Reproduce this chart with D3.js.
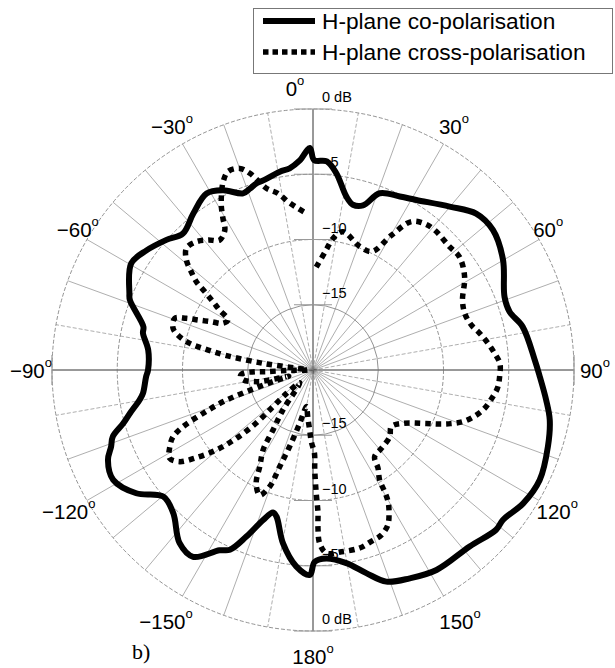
<!DOCTYPE html>
<html>
<head>
<meta charset="utf-8">
<script src="https://cdn.jsdelivr.net/npm/d3@7"></script>
<style>
  html, body { margin: 0; padding: 0; background: #fff; }
  svg { display: block; }
</style>
</head>
<body>
<svg id="chart" width="615" height="668"></svg>
<script>
// ---------------- DATA ----------------
// angles in degrees (clockwise from top), levels in dB
const seriesNames = ["H-plane co-polarisation", "H-plane cross-polarisation"];

const coAngles = [-179.1,-175.1,-170.2,-166,-164.3,-161.6,-158.2,-155.2,-152.6,-147.3,-142.4,-135.7,-130.2,-124.9,-118.8,-113.7,-110.8,-108.4,-105.7,-103.3,-99.8,-97.8,-92.3,-90,-83.1,-77.8,-75.7,-69.1,-67.3,-59.6,-54.3,-48.4,-43.6,-37.4,-31.1,-26.6,-21.6,-19.2,-16.9,-14.7,-9.5,-6.6,-3.6,-0.8,0.3,3.8,6.8,10.9,13.6,16.9,20.7,26.6,31.3,39.9,46.2,52.1,59.9,69.1,73.5,78.3,87.4,91.7,97.3,101.9,108,115.9,122.4,128.3,131.1,138.4,148.3,155.1,160.9,165.3,170.2,176,179.5];
const coValues = [-4.29,-4.90,-6.51,-8.43,-8.66,-7.89,-6.25,-4.83,-4.44,-2.99,-3.25,-4.67,-4.98,-3.49,-2.53,-2.84,-3.45,-3.83,-4.90,-5.59,-6.51,-6.85,-7.20,-7.36,-7.28,-6.67,-6.59,-4.98,-4.75,-3.85,-4.29,-4.98,-5.55,-4.90,-4.21,-4.60,-5.44,-5.29,-5.06,-4.98,-4.60,-4.44,-3.91,-2.99,-3.91,-3.98,-4.83,-6.47,-6.97,-6.82,-5.52,-5.13,-4.75,-3.68,-2.68,-2.53,-3.17,-4.29,-4.29,-3.60,-2.99,-2.61,-1.99,-1.46,-1.07,-0.69,-0.92,-1.46,-1.38,-1.92,-1.99,-2.40,-2.84,-3.91,-4.98,-5.52,-5.30];

const xAngles = [1.8,6.3,8.6,12.2,20.7,26.5,30.2,33.5,37.3,41,48,52.3,58.4,65,69.7,74.1,77.6,81.3,84.8,88,92,95.5,99.2,102.9,106.2,109,111.3,113.1,115.3,120.6,125.9,131,138.9,144.6,146.5,148.8,149.5,150.3,152,154.2,157.5,161.2,165.3,171.1,175.8,177.8,178.2,178,178.5,179,179,-178.7,-176.8,-174,-171,-169.7,-166,-163,-161,-159.6,-156.9,-153.4,-151.1,-148,-146.3,-143,-134,-131.5,-132.5,-133,-131.7,-129.6,-126.7,-124.5,-121.6,-118.2,-115.5,-113.6,-111.5,-109.4,-108,-106,-104.5,-103,-102,-98,-95,-92.7,-91.8,-92,-91,-88,-84,-82.4,-80.4,-79,-77.8,-76,-73.4,-69.5,-67.8,-66.5,-64.6,-62.6,-59.5,-57.3,-55.7,-54.1,-52.9,-51.1,-49,-46.1,-42.3,-38.9,-35.7,-32.2,-30.7,-29.3,-27.6,-25.5,-23.2,-20,-17.8,-14.4,-11.2,-8.4,-5.3,-2.4];
const xValues = [-12.11,-10.73,-9.81,-9.16,-9.88,-9.85,-8.05,-6.36,-5.90,-5.79,-5.90,-5.82,-6.36,-7.36,-7.59,-7.39,-6.92,-6.44,-6.02,-5.67,-5.69,-5.79,-6.15,-6.57,-7.17,-7.84,-8.69,-9.45,-10.40,-11.98,-12.59,-12.21,-12.03,-11.85,-10.97,-10.15,-9.20,-8.39,-7.59,-6.82,-6.31,-6.13,-5.90,-5.90,-5.92,-6.70,-7.97,-9.04,-10.54,-12.34,-13.62,-14.48,-15.40,-16.28,-17.01,-17.16,-15.79,-13.87,-12.18,-10.46,-9.58,-10.27,-11.57,-12.80,-14.48,-16.17,-18.6,-17.32,-15.86,-14.02,-12.11,-10.38,-8.69,-7.60,-7.10,-7.55,-8.12,-9.12,-10.96,-12.72,-14.64,-16.93,-18.08,-16.63,-15.71,-14.58,-14.41,-14.64,-15.56,-16.42,-18.08,-19.6,-18.85,-16.14,-13.13,-11.57,-10.34,-9.47,-8.81,-8.69,-9.52,-10.39,-11.37,-12.23,-12.44,-11.49,-10.73,-9.75,-8.81,-8.01,-7.14,-6.54,-6.71,-7.20,-7.74,-7.32,-6.48,-5.65,-4.86,-4.01,-3.46,-3.56,-4.17,-5.62,-6.21,-6.97,-7.56,-7.98];

const ringLevels = [0, -5, -10, -15];
const ringLabelsTop = ["0 dB", "\u22125", "\u221210", "\u221215"];
const ringLabelsBottom = ["0 dB", "\u22125", "\u221210", "\u221215"];
const spokeAngles = d3.range(0, 360, 10);
const angleTicks = [0, 30, 60, 90, 120, 150, 180, -150, -120, -90, -60, -30];
const angleTickLabels = ["0", "30", "60", "90", "120", "150", "180", "\u2212150", "\u2212120", "\u221290", "\u221260", "\u221230"];
const panelLabel = "b)";

// ---------------- LAYOUT ----------------
const cx = 313, cy = 370, R = 261;
const svg = d3.select("#chart");
const rad = d => d * Math.PI / 180;
const r = d3.scaleLinear().domain([-20, 0]).range([0, R]).clamp(true);

const g = svg.append("g").attr("transform", `translate(${cx},${cy})`);

// spokes
g.selectAll("line.spoke").data(spokeAngles).join("line")
  .attr("class", "spoke")
  .attr("x1", 0).attr("y1", 0)
  .attr("x2", a => R * Math.sin(rad(a)))
  .attr("y2", a => -R * Math.cos(rad(a)))
  .attr("stroke", a => (a % 90 === 0) ? "#333" : "#777")
  .attr("stroke-width", a => (a % 90 === 0) ? 1 : 0.6)
  .attr("stroke-dasharray", a => ([10, 80, 100, 170, 190, 260, 280, 350].includes(a)) ? "4,2" : null);

// rings
g.selectAll("circle.ring").data(ringLevels).join("circle")
  .attr("class", "ring")
  .attr("r", d => r(d))
  .attr("fill", "none")
  .attr("stroke", "#777")
  .attr("stroke-width", 0.8)
  .attr("stroke-dasharray", d => d === -15 ? null : "4,2");

// small gray ticks on the vertical axis
ringLevels.forEach(d => {
  [-1, 1].forEach(s => {
    g.append("line")
      .attr("x1", -19).attr("x2", 19)
      .attr("y1", s * r(d)).attr("y2", s * r(d))
      .attr("stroke", "#999").attr("stroke-width", 1.2);
  });
});
[-1, 1].forEach(s => {
  g.append("line")
    .attr("y1", -15).attr("y2", 15)
    .attr("x1", s * R).attr("x2", s * R)
    .attr("stroke", "#999").attr("stroke-width", 1.2);
});

// ring labels
ringLevels.forEach((d, i) => {
  g.append("text").attr("x", 9).attr("y", -r(d) - 7)
    .attr("font-family", "Liberation Sans, Arial, sans-serif")
    .attr("font-size", 14.5).attr("fill", "#000")
    .text(ringLabelsTop[i]);
  g.append("text").attr("x", 9).attr("y", r(d) - 7)
    .attr("font-family", "Liberation Sans, Arial, sans-serif")
    .attr("font-size", 14.5).attr("fill", "#000")
    .text(ringLabelsBottom[i]);
});

// angle labels
angleTicks.forEach((a, i) => {
  const c = Math.cos(rad(a)), s = Math.sin(rad(a));
  const rr = 282 + (c < -0.6 ? 12 : 0);
  let x = rr * s, y = -rr * c;
  if (a === 0) x -= 18;
  if (Math.abs(a) === 60) x -= 9 * Math.sign(a);
  if (Math.abs(a) === 150) y = y - 4;
  if (a === 180) y -= 8;
  const t = g.append("text")
    .attr("x", x).attr("y", y)
    .attr("text-anchor", "middle")
    .attr("dominant-baseline", "central")
    .attr("font-family", "Liberation Sans, Arial, sans-serif")
    .attr("font-size", 20.5).attr("fill", "#000");
  t.append("tspan").text(angleTickLabels[i]);
  t.append("tspan").attr("dy", -8).attr("font-size", 13).text("o");
});

// curves
const line = d3.lineRadial()
  .angle(d => rad(d[0]))
  .radius(d => r(d[1]));

const coData = coAngles.map((a, i) => [a, coValues[i]]);
const xData = xAngles.map((a, i) => [a, xValues[i]]);

g.append("path")
  .datum(xData)
  .attr("d", line.curve(d3.curveCatmullRom.alpha(0.5)))
  .attr("fill", "none")
  .attr("stroke", "#000")
  .attr("stroke-width", 5.5)
  .attr("stroke-dasharray", "5.5,5");

g.append("path")
  .datum(coData)
  .attr("d", line.curve(d3.curveCatmullRomClosed.alpha(0.5)))
  .attr("fill", "none")
  .attr("stroke", "#000")
  .attr("stroke-width", 6)
  .attr("stroke-linejoin", "round");

// legend
const lg = svg.append("g");
lg.append("rect").attr("x", 253.5).attr("y", 8.5).attr("width", 359).attr("height", 65)
  .attr("fill", "#fff").attr("stroke", "#777").attr("stroke-width", 1);
const legendRows = [
  { name: seriesNames[0], dash: null, y: 21 },
  { name: seriesNames[1], dash: "5.5,4", y: 52 }
];
legendRows.forEach(row => {
  lg.append("line").attr("x1", 263).attr("x2", 315).attr("y1", row.y).attr("y2", row.y)
    .attr("stroke", "#000").attr("stroke-width", row.dash ? 5.5 : 6)
    .attr("stroke-dasharray", row.dash);
  lg.append("text").attr("x", 322).attr("y", row.y)
    .attr("dominant-baseline", "central")
    .attr("font-family", "Liberation Sans, Arial, sans-serif")
    .attr("font-size", 22.7).attr("fill", "#000")
    .text(row.name);
});

// panel label
svg.append("text").attr("x", 132).attr("y", 659)
  .attr("font-family", "Liberation Serif, Times New Roman, serif")
  .attr("font-size", 22).attr("fill", "#000")
  .text(panelLabel);
</script>
</body>
</html>
